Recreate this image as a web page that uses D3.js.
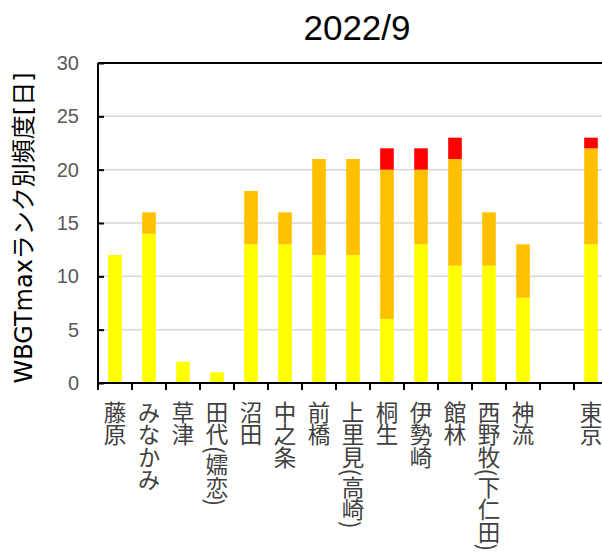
<!DOCTYPE html>
<html>
<head>
<meta charset="utf-8">
<script src="https://cdn.jsdelivr.net/npm/d3@7"></script>
<style>
  html, body { margin: 0; padding: 0; background: #fff; }
  svg { display: block; }
</style>
</head>
<body>
<div id="viz"></div>
<script>
const STATIONS = ["藤原", "みなかみ", "草津", "田代(嬬恋)", "沼田", "中之条", "前橋", "上里見(高崎)",
  "桐生", "伊勢崎", "館林", "西野牧(下仁田)", "神流", "", "東京"];
const RANK_LOW = [12, 14, 2, 1, 13, 13, 12, 12, 6, 13, 11, 11, 8, 0, 13];
const RANK_MID = [0, 2, 0, 0, 5, 3, 9, 9, 14, 7, 10, 5, 5, 0, 9];
const RANK_HIGH = [0, 0, 0, 0, 0, 0, 0, 0, 2, 2, 2, 0, 0, 0, 1];
const Y_TICKS = [0, 5, 10, 15, 20, 25, 30];
const SERIES_COLORS = ["#FFFF00", "#FFC000", "#FF0000"];

const W = 602, H = 557;
const plot = { left: 98, right: 608, top: 63, bottom: 383 };

const svg = d3.select("#viz").append("svg").attr("width", W).attr("height", H);

const rows = STATIONS.map((name, i) => ({ key: i, name, low: RANK_LOW[i], mid: RANK_MID[i], high: RANK_HIGH[i] }));
const stack = d3.stack().keys(["low", "mid", "high"])(rows);

const x = d3.scaleBand().domain(rows.map(d => d.key)).range([plot.left, plot.right]).padding(0);
const y = d3.scaleLinear().domain([0, 30]).range([plot.bottom, plot.top]);
const barW = x.bandwidth() * 0.4;

// gridlines
svg.append("g")
  .selectAll("line")
  .data(Y_TICKS.filter(t => t > 0 && t < 30))
  .join("line")
  .attr("x1", plot.left).attr("x2", W)
  .attr("y1", d => y(d)).attr("y2", d => y(d))
  .attr("stroke", "#d9d9d9").attr("stroke-width", 1.5);

// bars
svg.append("g")
  .selectAll("g")
  .data(stack)
  .join("g")
  .attr("fill", (d, i) => SERIES_COLORS[i])
  .selectAll("rect")
  .data(d => d.filter(s => s[1] > s[0]))
  .join("rect")
  .attr("x", d => x(d.data.key) + (x.bandwidth() - barW) / 2)
  .attr("width", barW)
  .attr("y", d => y(d[1]))
  .attr("height", d => y(d[0]) - y(d[1]));

// frame top
svg.append("line")
  .attr("x1", plot.left).attr("x2", W)
  .attr("y1", plot.top).attr("y2", plot.top)
  .attr("stroke", "#000").attr("stroke-width", 2);

// y axis, ticks inside
const yAxis = svg.append("g")
  .attr("transform", `translate(${plot.left},0)`)
  .call(d3.axisRight(y).tickValues(Y_TICKS).tickSize(6).tickFormat(""));
yAxis.select(".domain").attr("stroke-width", 2).attr("d", `M0,${plot.top}V${plot.bottom}`);
yAxis.selectAll(".tick line").attr("stroke-width", 2);

svg.append("g")
  .selectAll("text")
  .data(Y_TICKS)
  .join("text")
  .attr("x", 79)
  .attr("y", d => y(d) + 7)
  .attr("text-anchor", "end")
  .attr("fill", "#595959")
  .style("font-family", "'Liberation Sans', Arial, sans-serif")
  .style("font-size", "20px")
  .text(d => d);

// x axis, ticks at band edges
const edges = rows.map(d => x(d.key)).concat([plot.right]);
svg.append("line")
  .attr("x1", plot.left).attr("x2", W)
  .attr("y1", plot.bottom).attr("y2", plot.bottom)
  .attr("stroke", "#000").attr("stroke-width", 2);
svg.append("g")
  .selectAll("line")
  .data(edges)
  .join("line")
  .attr("x1", d => d).attr("x2", d => d)
  .attr("y1", plot.bottom).attr("y2", plot.bottom + 7)
  .attr("stroke", "#000").attr("stroke-width", 2);

// category labels, vertical
svg.append("g")
  .selectAll("text")
  .data(rows)
  .join("text")
  .attr("x", d => x(d.key) + x.bandwidth() / 2)
  .attr("y", 401)
  .attr("fill", "#404040")
  .style("font-family", "'Noto Sans CJK JP', sans-serif")
  .style("font-size", "22.5px")
  .style("writing-mode", "vertical-rl")
  .style("text-orientation", "mixed")
  .text(d => d.name);

// y title
svg.append("text")
  .attr("transform", "translate(32,228) rotate(-90)")
  .attr("text-anchor", "middle")
  .attr("fill", "#000")
  .style("font-family", "'DejaVu Sans', 'Noto Sans CJK JP', sans-serif")
  .style("font-size", "24px")
  .text("WBGTmaxランク別頻度[日]");

// title
svg.append("text")
  .attr("x", 357)
  .attr("y", 40)
  .attr("text-anchor", "middle")
  .attr("fill", "#000")
  .style("font-family", "'Liberation Sans', Arial, sans-serif")
  .style("font-size", "35px")
  .text("2022/9");
</script>
</body>
</html>
